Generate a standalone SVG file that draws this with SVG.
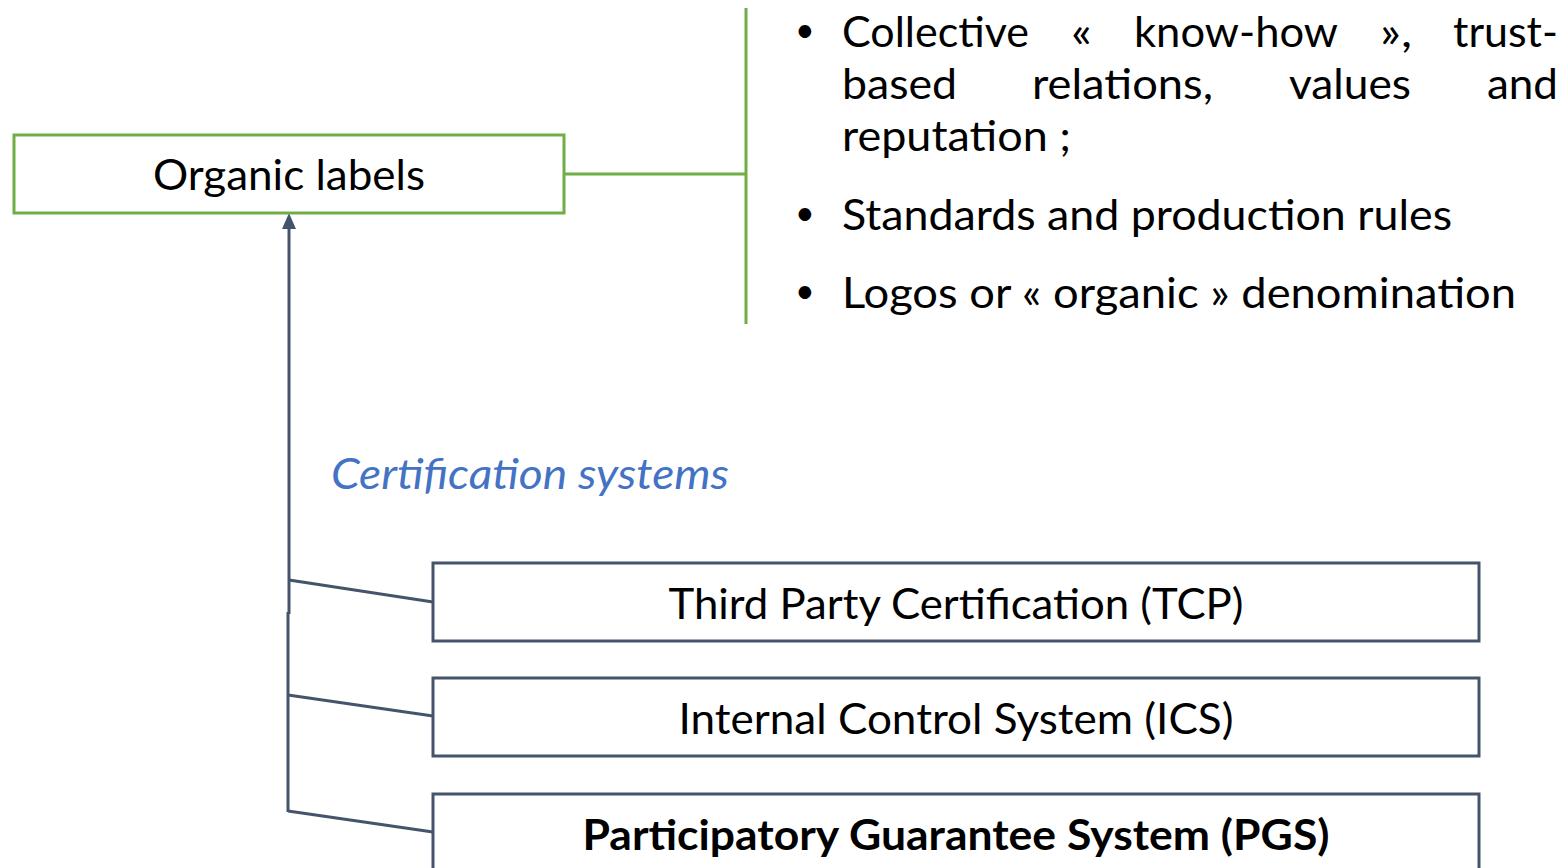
<svg xmlns="http://www.w3.org/2000/svg" width="1564" height="868" viewBox="0 0 1564 868">
<style>
text{font-family:Lato,"Open Sans","Liberation Sans",sans-serif;font-size:42px;fill:#000}
.g{fill:#fff;stroke:#70AD47;stroke-width:3}
.s{fill:#fff;stroke:#44546A;stroke-width:3}
.gl{fill:none;stroke:#70AD47;stroke-width:3}
.sl{fill:none;stroke:#44546A;stroke-width:3}
.c{text-anchor:middle}
.it{font-style:italic;fill:#4472C4}
.b{font-weight:bold}
.bu{font-size:34px}
</style>
<g id="connectors">
<polyline class="gl" points="564,174 746,174"/>
<line class="gl" x1="746" y1="8" x2="746" y2="324"/>
<line class="sl" x1="289" y1="614" x2="289" y2="229"/>
<path d="M282,229 L289,213 L296,229 Z" fill="#44546A"/>
<line class="sl" x1="288" y1="612" x2="288" y2="812"/>
<line class="sl" x1="289" y1="580" x2="433" y2="602"/>
<line class="sl" x1="288" y1="695" x2="433" y2="716"/>
<line class="sl" x1="288" y1="811" x2="433" y2="832"/>
</g>
<g id="organic">
<rect class="g" x="14" y="135" width="550" height="78"/>
<text class="c" x="289" y="190" textLength="272" lengthAdjust="spacingAndGlyphs">Organic labels</text>
</g>
<g id="bullets">
<text class="bu" x="795" y="42">•</text>
<text x="842" y="47" textLength="187" lengthAdjust="spacingAndGlyphs">Collective</text>
<text x="1071" y="47" textLength="21" lengthAdjust="spacingAndGlyphs">«</text>
<text x="1134" y="47" textLength="204" lengthAdjust="spacingAndGlyphs">know-how</text>
<text x="1380" y="47" textLength="32" lengthAdjust="spacingAndGlyphs">»,</text>
<text x="1453" y="47" textLength="105" lengthAdjust="spacingAndGlyphs">trust-</text>
<text x="842" y="99" textLength="115" lengthAdjust="spacingAndGlyphs">based</text>
<text x="1032" y="99" textLength="181" lengthAdjust="spacingAndGlyphs">relations,</text>
<text x="1289" y="99" textLength="122" lengthAdjust="spacingAndGlyphs">values</text>
<text x="1487" y="99" textLength="71" lengthAdjust="spacingAndGlyphs">and</text>
<text x="842" y="151" textLength="229" lengthAdjust="spacingAndGlyphs">reputation ;</text>
<text class="bu" x="795" y="225">•</text>
<text x="842" y="230" textLength="610" lengthAdjust="spacingAndGlyphs">Standards and production rules</text>
<text class="bu" x="795" y="303">•</text>
<text x="842" y="308" textLength="674" lengthAdjust="spacingAndGlyphs">Logos or « organic » denomination</text>
</g>
<g id="cert-label">
<text class="it" x="331" y="489" textLength="398" lengthAdjust="spacingAndGlyphs">Certification systems</text>
</g>
<g id="tcp">
<rect class="s" x="433" y="563" width="1046" height="78"/>
<text class="c" x="956" y="619" textLength="575" lengthAdjust="spacingAndGlyphs">Third Party Certification (TCP)</text>
</g>
<g id="ics">
<rect class="s" x="433" y="678" width="1046" height="78"/>
<text class="c" x="956" y="734" textLength="555" lengthAdjust="spacingAndGlyphs">Internal Control System (ICS)</text>
</g>
<g id="pgs">
<rect class="s" x="433" y="794" width="1046" height="90"/>
<text class="c b" x="956" y="850" textLength="747" lengthAdjust="spacingAndGlyphs">Participatory Guarantee System (PGS)</text>
</g>
</svg>
